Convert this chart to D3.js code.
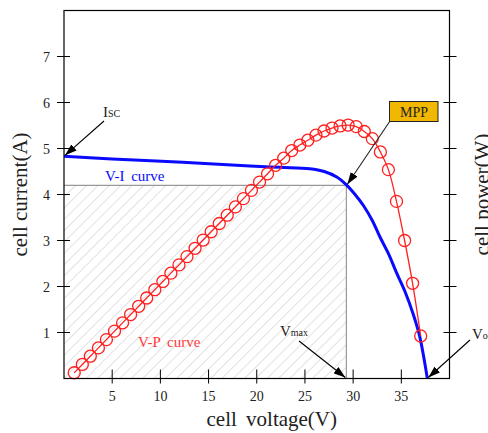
<!DOCTYPE html>
<html>
<head>
<meta charset="utf-8">
<script src="https://cdn.jsdelivr.net/npm/d3@7"></script>
<style>
  html, body { margin: 0; padding: 0; background: #fff; }
  svg { display: block; }
  text { font-family: "Liberation Serif", "DejaVu Serif", serif; }
</style>
</head>
<body>
<div id="chart"></div>
<script>
// V-P curve samples (circles)
var vpVoltage = [1.06, 1.90, 2.73, 3.57, 4.40, 5.24, 6.08, 6.91, 7.75, 8.58,
                 9.42, 10.26, 11.09, 11.93, 12.76, 13.60, 14.44, 15.27, 16.11, 16.94,
                 17.78, 18.62, 19.45, 20.29, 21.12, 21.96, 22.80, 23.63, 24.47, 25.30,
                 26.14, 26.98, 27.81, 28.65, 29.48, 30.32, 31.16, 31.99, 32.83, 33.66,
                 34.50, 35.34, 36.17, 37.01];
var vpPower = [2.5, 6.1, 9.7, 13.3, 16.9, 20.6, 24.2, 27.8, 31.4, 35.0,
               38.6, 42.2, 45.8, 49.4, 53.0, 56.6, 60.2, 63.8, 67.4, 71.0,
               74.6, 78.2, 81.8, 85.4, 89.0, 92.7, 95.8, 99.1, 101.5, 103.6,
               105.8, 107.6, 108.9, 109.8, 110.2, 109.5, 107.4, 104.3, 98.5, 90.8,
               77.0, 60.0, 41.4, 18.5];

// V-I curve
var viVoltage = [0, 5, 12.3, 19.3, 22.4, 25.5, 27.0, 28.3, 29.3, 30.2, 31.1, 32.0, 32.8, 33.7, 34.5, 35.4, 36.2, 36.9, 37.7];
var viCurrent = [4.83, 4.77, 4.70, 4.62, 4.59, 4.56, 4.50, 4.38, 4.21, 4.00, 3.75, 3.43, 3.07, 2.70, 2.30, 1.88, 1.42, 0.92, 0.0];

var xTicks = [5, 10, 15, 20, 25, 30, 35];
var yTicks = [1, 2, 3, 4, 5, 6, 7];
var powerTicks = [20, 40, 60, 80, 100, 120, 140];

var iscValue = 4.83;
var vocValue = 37.7;
var mppVoltage = 29.3;
var mppCurrent = 4.2;

var width = 488, height = 433;
var pLeft = 64, pRight = 449.5, pTop = 10.5, pBottom = 378.5;
var blue = '#0a0aff', red = '#ff2020';

var x = d3.scaleLinear().domain([0, 40]).range([pLeft, pRight]);
var y = d3.scaleLinear().domain([0, 8]).range([pBottom, pTop]);
var yp = d3.scaleLinear().domain([0, 160]).range([pBottom, pTop]);

var svg = d3.select('#chart').append('svg')
  .attr('width', width)
  .attr('height', height);

var defs = svg.append('defs');

defs.append('pattern')
  .attr('id', 'hatch')
  .attr('patternUnits', 'userSpaceOnUse')
  .attr('width', 8).attr('height', 8)
  .attr('patternTransform', 'rotate(45)')
  .append('line')
    .attr('x1', 0).attr('y1', 0).attr('x2', 0).attr('y2', 8)
    .attr('stroke', '#d4d4d4').attr('stroke-width', 1.4);

defs.append('marker')
  .attr('id', 'arrow')
  .attr('markerUnits', 'userSpaceOnUse')
  .attr('markerWidth', 12).attr('markerHeight', 8)
  .attr('refX', 12).attr('refY', 4)
  .attr('orient', 'auto')
  .append('path')
    .attr('d', 'M0,0 L12,4 L0,8 Z')
    .attr('fill', '#000');

// MPP rectangle
svg.append('rect')
  .attr('x', pLeft)
  .attr('y', y(mppCurrent))
  .attr('width', x(mppVoltage) - pLeft)
  .attr('height', pBottom - y(mppCurrent))
  .attr('fill', 'url(#hatch)');

svg.append('path')
  .attr('d', 'M' + pLeft + ',' + y(mppCurrent) + 'H' + x(mppVoltage) + 'V' + pBottom)
  .attr('fill', 'none')
  .attr('stroke', '#999')
  .attr('stroke-width', 1.2);

// V-I curve
var viData = viVoltage.map(function(v, i){ return [v, viCurrent[i]]; });
svg.append('path')
  .datum(viData)
  .attr('d', d3.line()
    .x(function(d){ return Math.max(pLeft, x(d[0])); })
    .y(function(d){ return y(d[1]); })
    .curve(d3.curveCatmullRom.alpha(0.5)))
  .attr('fill', 'none')
  .attr('stroke', blue)
  .attr('stroke-width', 3);

// V-P curve
var vpData = vpVoltage.map(function(v, i){ return [v, vpPower[i]]; });
svg.append('path')
  .datum(vpData)
  .attr('d', d3.line()
    .x(function(d){ return x(d[0]); })
    .y(function(d){ return yp(d[1]); })
    .curve(d3.curveCatmullRom))
  .attr('fill', 'none')
  .attr('stroke', red)
  .attr('stroke-width', 1.3);

svg.selectAll('.vp')
  .data(vpData)
  .enter().append('circle')
    .attr('class', 'vp')
    .attr('cx', function(d){ return x(d[0]); })
    .attr('cy', function(d){ return yp(d[1]); })
    .attr('r', 6)
    .attr('fill', 'none')
    .attr('stroke', red)
    .attr('stroke-width', 1.3);

// frame + ticks
svg.append('rect')
  .attr('x', pLeft).attr('y', pTop)
  .attr('width', pRight - pLeft).attr('height', pBottom - pTop)
  .attr('fill', 'none')
  .attr('stroke', '#000')
  .attr('stroke-width', 1.2);

svg.selectAll('.xtick')
  .data(xTicks)
  .enter().append('line')
    .attr('x1', function(d){ return x(d); }).attr('x2', function(d){ return x(d); })
    .attr('y1', pBottom - 9).attr('y2', pBottom + 5)
    .attr('stroke', '#000');

svg.selectAll('.xlabel')
  .data(xTicks)
  .enter().append('text')
    .attr('x', function(d){ return x(d); })
    .attr('y', 401)
    .attr('text-anchor', 'middle')
    .attr('font-size', 14)
    .attr('fill', '#222')
    .text(function(d){ return d; });

svg.selectAll('.ytick')
  .data(yTicks)
  .enter().append('line')
    .attr('x1', pLeft - 7).attr('x2', pLeft + 6)
    .attr('y1', function(d){ return y(d); }).attr('y2', function(d){ return y(d); })
    .attr('stroke', '#000');

svg.selectAll('.ylabel')
  .data(yTicks)
  .enter().append('text')
    .attr('x', 50)
    .attr('y', function(d){ return y(d) + 5; })
    .attr('text-anchor', 'end')
    .attr('font-size', 14)
    .attr('fill', '#222')
    .text(function(d){ return d; });

svg.selectAll('.ptick')
  .data(powerTicks)
  .enter().append('line')
    .attr('x1', pRight - 6).attr('x2', pRight + 7)
    .attr('y1', function(d){ return yp(d); }).attr('y2', function(d){ return yp(d); })
    .attr('stroke', '#000');

// axis titles
svg.append('text')
  .attr('transform', 'translate(27,' + ((pTop + pBottom) / 2) + ') rotate(-90)')
  .attr('text-anchor', 'middle')
  .attr('font-size', 21)
  .attr('fill', '#222')
  .text('cell current(A)');

svg.append('text')
  .attr('transform', 'translate(489,' + ((pTop + pBottom) / 2) + ') rotate(-90)')
  .attr('text-anchor', 'middle')
  .attr('font-size', 21)
  .attr('fill', '#222')
  .text('cell power(W)');

svg.append('text')
  .attr('x', (pLeft + pRight) / 2 + 15)
  .attr('y', 426)
  .attr('text-anchor', 'middle')
  .attr('font-size', 21)
  .attr('word-spacing', 4)
  .attr('fill', '#222')
  .text('cell voltage(V)');

// curve labels
svg.append('text')
  .attr('x', 105).attr('y', 181)
  .attr('font-size', 15)
  .attr('word-spacing', 3)
  .attr('fill', blue)
  .text('V-I curve');

svg.append('text')
  .attr('x', 138).attr('y', 347)
  .attr('font-size', 15)
  .attr('word-spacing', 3)
  .attr('fill', '#ff3b3b')
  .text('V-P curve');

// annotations
function arrow(x1, y1, x2, y2, color){
  svg.append('line')
    .attr('x1', x1).attr('y1', y1)
    .attr('x2', x2).attr('y2', y2)
    .attr('stroke', color || '#000')
    .attr('stroke-width', 1.1)
    .attr('marker-end', 'url(#arrow)');
}

function subLabel(px, py, big, small){
  var t = svg.append('text')
    .attr('x', px).attr('y', py)
    .attr('fill', '#222');
  t.append('tspan').attr('font-size', 15).text(big);
  t.append('tspan').attr('font-size', 10).text(small);
}

// Isc
arrow(104, 121, pLeft + 1, y(iscValue) - 1);
subLabel(103, 117, 'I', 'SC');

// Vmax
arrow(299, 341, x(mppVoltage) - 1, pBottom - 1);
subLabel(280, 336, 'V', 'max');

// Voc
arrow(470, 340, x(vocValue) + 1, pBottom - 1);
subLabel(472, 339, 'V', 'oc');

// MPP
arrow(390, 121, x(mppVoltage) + 1, y(mppCurrent) - 1, '#222');
svg.append('rect')
  .attr('x', 389.5).attr('y', 101.5)
  .attr('width', 48.5).attr('height', 20)
  .attr('fill', '#f2b700')
  .attr('stroke', '#222')
  .attr('stroke-width', 1);
svg.append('text')
  .attr('x', 414).attr('y', 116.5)
  .attr('text-anchor', 'middle')
  .attr('font-size', 14)
  .attr('fill', '#222')
  .text('MPP');
</script>
</body>
</html>
